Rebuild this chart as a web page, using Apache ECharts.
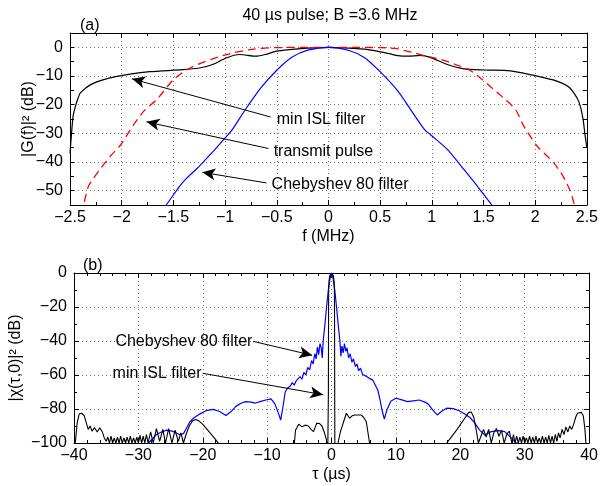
<!DOCTYPE html>
<html><head><meta charset="utf-8">
<script src="https://cdn.jsdelivr.net/npm/echarts@6/dist/echarts.min.js"></script>
<style>html,body{margin:0;padding:0;background:#fff}#c{width:601px;height:486px}</style>
</head><body><div id="c"></div>
<script>
// ---------- panel (a): spectra ----------
const fIsl = [-2.5,-2.485,-2.47,-2.447,-2.42,-2.40,-2.30,-2.14,-1.95,-1.73,-1.41,-1.25,-1.12,-0.99,-0.86,-0.70,-0.61,-0.51,-0.38,-0.2,0,0.2,0.35,0.48,0.6,0.67,0.77,0.89,0.99,1.15,1.31,1.50,1.76,1.95,2.21,2.33,2.41,2.44,2.465,2.48,2.5];
const gIsl = [-37,-30,-24,-20.5,-17.5,-15.9,-13,-10.9,-9.5,-8.5,-7.8,-7.2,-6,-3.7,-2.5,-3.1,-2.5,-1.4,-0.8,-0.3,0,-0.3,-0.6,-1.4,-2.3,-2.9,-3.1,-2.8,-3.6,-6,-7.5,-7.9,-8.2,-9.5,-11.8,-14,-18,-21,-25.5,-30,-35];
const fTx = [-2.41,-2.37,-2.32,-2.21,-2.11,-2.02,-1.88,-1.78,-1.66,-1.50,-1.34,-1.12,-0.93,-0.74,-0.5,0,0.5,0.65,0.80,0.93,1.09,1.23,1.36,1.49,1.58,1.71,1.81,1.89,2.02,2.18,2.27,2.34,2.38,2.41];
const gTx = [-58,-55,-48.4,-42.6,-38,-34.5,-26.8,-22,-18.2,-11.3,-7.2,-4,-2,-0.7,-0.1,0,-0.1,-0.4,-1.7,-2.9,-4.3,-6,-7.8,-11.3,-14.1,-18.2,-21.7,-27.5,-34.5,-40.3,-45,-50.2,-55,-58];
const fCheb = [-1.65,-1.57,-1.44,-1.38,-1.25,-1.12,-0.99,-0.93,-0.80,-0.65,-0.5,-0.35,-0.2,0,0.2,0.35,0.5,0.67,0.80,0.93,0.99,1.15,1.31,1.44,1.58,1.65];
const gCheb = [-58,-55,-48.5,-46,-41.5,-36.5,-31.2,-28.7,-21.5,-14,-8,-3.4,-1,0,-1.1,-3.6,-8.5,-15.2,-22,-28.7,-30.6,-35.6,-42.6,-48.4,-55,-58];
const gTicks = [-50,-40,-30,-20,-10,0];

// ---------- panel (b): ambiguity cuts ----------
const tauIsl = [
  -40,-39.8,-39.5,-39.2,-38.8,-38.4,-38.1,-37.8,-37.5,-37.2,-36.8,-36.4,-36.0,-35.6,-35.3,-35.0,
  -34.75,-34.5,-34.25,-34.0,-33.75,-33.5,-33.25,-33.0,-32.75,-32.5,-32.25,-32.0,-31.75,
  -31.5,-31.25,-31.0,-30.75,-30.5,-30.25,-30.0,-29.75,-29.5,-29.25,-29.0,-28.75,-28.5,
  -28.1,-27.7,-27.2,-26.7,-26.2,-25.8,-25.3,-24.8,-24.3,-23.8,-23.4,-23.0,-22.6,-22.1,-21.6,-21.1,-20.6,-20.0,-19.0,-18.0,-17.4,-17.0,
  -6.0,-5.6,-5.1,-4.6,-4.1,-3.6,-3.2,-2.8,-2.3,-1.9,-1.5,-1.1,-0.8,-0.6,
  -0.52,-0.49,-0.47,-0.45,-0.4,-0.28,0,0.28,0.4,0.45,0.47,0.49,0.52,
  0.7,1.0,1.4,1.8,2.3,2.8,3.2,3.6,4.1,4.6,5.0,5.4,5.7,5.9,6.1,
  17.5,17.9,18.5,19.5,20.5,21.3,21.7,22.1,22.5,22.8,23.2,23.6,24.0,24.4,24.8,25.2,25.6,26.0,26.4,26.8,27.2,27.6,28.0,
  28.25,28.5,28.75,29.0,29.25,29.5,29.75,30.0,30.25,30.5,30.75,31.0,31.25,31.5,31.75,
  32.0,32.25,32.5,32.75,33.0,33.25,33.5,33.75,34.0,34.25,34.5,34.75,35.0,35.25,35.5,
  35.8,36.1,36.4,36.7,37.0,37.3,37.6,37.9,38.2,38.5,38.8,39.1,39.35,39.5,39.7,40];
const islDb = [
  -110,-100,-88,-83,-82.5,-84,-88,-92,-90,-93,-91,-93.5,-91,-93.5,-97,-99,
  -96.5,-100,-96,-100,-97,-100,-96.5,-100,-96,-100,-97,-100,-96.5,
  -100,-96,-100,-97,-100,-96.5,-100,-95.5,-100,-96,-100,-95,-100,
  -93.5,-100,-91.5,-99,-92,-100,-91.5,-100,-92.5,-99,-94,-100,-95,-90,-87,-86.2,-87,-89,-93.5,-98,-101,-110,
  -110,-92.5,-89,-90.4,-89.5,-90,-92,-93.3,-88.4,-88.5,-90,-94,-98,-110,
  -110,-70,-30,-12,-5,-1.5,0,-1.5,-5,-12,-30,-70,-110,
  -110,-100,-93,-88.4,-82.5,-85.4,-84,-83.5,-83.5,-83.5,-85,-87.5,-95,-100,-110,
  -110,-100,-97,-92,-86.5,-82,-81.8,-85,-93,-100,-96,-92,-96.5,-92,-100,-94,-91.5,-96,-92.5,-100,-95,-93,-100,
  -95,-100,-96,-100,-96.5,-100,-96,-100,-97,-100,-96,-100,-96.5,-100,-96,
  -100,-97,-100,-96,-100,-96.5,-100,-95.5,-100,-96,-100,-95,-99,-94,-97,
  -92,-95,-90.5,-93.5,-90,-92,-89,-85,-82.5,-83.5,-82,-84,-92,-100,-110,-110];
const tauCheb = [
  -29,-28.4,-27.8,-27.2,-26.6,-25.6,-24.6,-23.6,-23.0,-22.5,
  -22.0,-21.3,-20.5,-19.5,-18.4,-17.4,-16.4,-15.6,-14.9,-14.0,
  -13.3,-12.5,-11.8,-11.0,-10.2,-9.4,-8.8,-8.3,-7.9,-7.6,
  -7.2,-6.8,-6.4,-6.1,-5.8,-5.5,-5.2,-4.9,-4.6,-4.3,
  -4.0,-3.7,-3.4,-3.1,-2.85,-2.6,-2.4,-2.2,-2.0,-1.8,
  -1.6,-1.45,-1.3,-1.05,-0.8,-0.5,-0.25,0,0.25,0.5,
  0.8,1.05,1.3,1.45,1.6,1.8,2.0,2.2,2.4,2.65,
  2.9,3.15,3.4,3.7,3.95,4.2,4.5,4.8,5.1,5.5,
  5.9,6.4,6.8,7.2,7.5,7.8,8.2,8.6,9.2,10.0,
  10.8,11.8,12.7,13.6,14.4,15.0,15.7,16.4,17.2,17.9,
  18.9,19.8,20.5,21.5,22.2,23.0,23.8,24.8,25.9,26.9,
  27.9,28.7,29.0];
const chebDb = [
  -103,-100,-97.5,-95,-93.8,-92.4,-93.2,-95,-94.5,-91,
  -87.5,-85,-83,-81,-80.2,-81.5,-83.8,-81.5,-78.6,-76.5,
  -75.7,-76,-76.5,-75.5,-74.7,-74,-77,-82,-86.5,-80,
  -70,-67.5,-66.5,-64.5,-66,-63.5,-64,-61,-62.5,-58.5,
  -60,-55.5,-57,-51.5,-53.5,-47.5,-50.5,-43.5,-48,-41.5,
  -44,-50,-40,-31,-21,-10,-3.5,0,-3.5,-10,
  -21,-31,-40,-49,-43,-47,-41.5,-46,-44,-50,
  -47.5,-52.5,-50.5,-55,-53.5,-57.5,-56,-59.5,-58.5,-61,
  -62,-63,-66,-69,-74,-80,-86,-80.5,-75.5,-73.7,
  -74.5,-75.7,-75.2,-74.7,-75.8,-77,-80.5,-83.5,-81,-79.5,
  -79.8,-81,-82.5,-85,-88,-92.4,-95.3,-93.3,-92.7,-93.3,
  -97,-100,-103];

// annotations (data coordinates)
const notesA = [
  {text:'min ISL filter',      at:[-0.50,-25.2], from:[-0.56,-24.3], to:[-1.90,-11.0]},
  {text:'transmit pulse',      at:[-0.53,-36.2], from:[-0.58,-35.3], to:[-1.76,-26.0]},
  {text:'Chebyshev 80 filter', at:[-0.55,-47.8], from:[-0.60,-47.3], to:[-1.22,-43.6]}
];
const notesB = [
  {text:'Chebyshev 80 filter', at:[-12.3,-40.4], from:[-12.2,-40.2], to:[-3.0,-48.4]},
  {text:'min ISL filter',      at:[-20.2,-59.4], from:[-20.0,-59.0], to:[-1.3,-71.6]}
];

const FONT = '"Liberation Sans", Arial, Helvetica, sans-serif';
const FS = 16;
const zip = (xs, ys) => xs.map((x, i) => [x, ys[i]]);
const fmt = v => (v < 0 ? '\u2212' : '') + Math.abs(v);
const GRID = {color:'#777', width:1, type:[1,3]};
const lab = {fontFamily:FONT, fontSize:FS, color:'#000'};

function xAx(grid, min, max, interval, minorSplit, top, name) {
  return {
    type:'value', gridIndex:grid, min, max, interval, position: top ? 'top' : 'bottom',
    axisLine:{show:true, onZero:false, lineStyle:{color:'#000', width:1}},
    axisTick:{show:true, inside:true, length:5, lineStyle:{color:'#000'}},
    minorTick:{show:true, splitNumber:minorSplit, length:3, lineStyle:{color:'#000'}},
    axisLabel: top ? {show:false} : Object.assign({margin:5, formatter:fmt}, lab),
    splitLine: top ? {show:false} : {show:true, lineStyle:GRID},
    minorSplitLine:{show:false},
    name: top ? '' : name, nameLocation:'middle', nameGap:24, nameMoveOverlap:false,
    nameTextStyle:{fontFamily:FONT, fontSize:FS, color:'#000'}
  };
}
function yAx(grid, min, max, interval, minorSplit, right, name, nameGap, labelFilter) {
  return {
    type:'value', gridIndex:grid, min, max, interval, position: right ? 'right' : 'left',
    axisLine:{show:true, onZero:false, lineStyle:{color:'#000', width:1}},
    axisTick:{show:true, inside:true, length: minorSplit ? 5 : 4, lineStyle:{color:'#000'}},
    minorTick:{show: !!minorSplit, splitNumber:minorSplit || 1, length:3, lineStyle:{color:'#000'}},
    axisLabel: right ? {show:false} : Object.assign({margin:7,
      formatter: v => labelFilter && !labelFilter.includes(v) ? '' : fmt(v)}, lab),
    splitLine: (right || labelFilter) ? {show:false} : {show:true, lineStyle:GRID},
    name: right ? '' : name, nameLocation:'middle', nameGap, nameRotate:90, nameMoveOverlap:false,
    nameTextStyle:{fontFamily:FONT, fontSize:FS, color:'#000'}
  };
}
function notes(list, pos) {
  return {
    markLine:{silent:true, symbol:['none','arrow'], symbolSize:[9,13], animation:false,
      lineStyle:{color:'#000', width:1, type:'solid'}, label:{show:false},
      data: list.map(n => [{coord:n.from}, {coord:n.to}])},
    markPoint:{silent:true, symbol:'circle', symbolSize:0, animation:false,
      label:{show:true, position:pos, distance:0, fontFamily:FONT, fontSize:FS, color:'#000', formatter:'{b}'},
      data: list.map(n => ({name:n.text, coord:n.at}))}
  };
}

const chart = echarts.init(document.getElementById('c'), null, {renderer:'canvas'});
const lineBase = {type:'line', showSymbol:false, symbol:'none', animation:false, clip:true, silent:true};

chart.setOption({
  backgroundColor:'#fff',
  animation:false,
  grid:[
    {left:70, top:33, width:521, height:172},
    {left:70, top:273, width:521, height:170}
  ],
  xAxis:[
    xAx(0, -2.5, 2.5, 0.5, 2, false, 'f (MHz)'),
    xAx(0, -2.5, 2.5, 0.5, 2, true),
    xAx(1, -40, 40, 10, 5, false, '\u03c4 (\u00b5s)'),
    xAx(1, -40, 40, 10, 5, true)
  ],
  yAxis:[
    yAx(0, -55, 5, 5, 0, false, '|G(f)|\u00b2 (dB)', 33, gTicks),
    yAx(0, -55, 5, 5, 0, true),
    {type:'value', gridIndex:0, min:-55, max:5, position:'left',
      axisLine:{show:false}, axisLabel:{show:false},
      axisTick:{show:false, customValues:gTicks},
      splitLine:{show:true, lineStyle:GRID}},
    yAx(1, -100, 0, 20, 2, false, '|\u03c7(\u03c4,0)|\u00b2 (dB)', 50),
    yAx(1, -100, 0, 20, 2, true)
  ],
  graphic:[
    {type:'text', x:330, y:16, style:{text:'40 \u00b5s pulse; B =3.6 MHz', font:FS + 'px ' + FONT, fill:'#000', align:'center', verticalAlign:'middle'}},
    {type:'text', x:80, y:26, style:{text:'(a)', font:FS + 'px ' + FONT, fill:'#000', align:'left', verticalAlign:'middle'}},
    {type:'text', x:83, y:266, style:{text:'(b)', font:FS + 'px ' + FONT, fill:'#000', align:'left', verticalAlign:'middle'}}
  ],
  series:[
    Object.assign({}, lineBase, {xAxisIndex:0, yAxisIndex:0, data:zip(fIsl, gIsl), smooth:0.25,
      lineStyle:{color:'#000', width:1.2}}, notes(notesA, 'right')),
    Object.assign({}, lineBase, {xAxisIndex:0, yAxisIndex:0, data:zip(fTx, gTx), smooth:0.25,
      lineStyle:{color:'#ff0000', width:1.3, type:[8,5]}}),
    Object.assign({}, lineBase, {xAxisIndex:0, yAxisIndex:0, data:zip(fCheb, gCheb), smooth:0.25,
      lineStyle:{color:'#0000ff', width:1.2}}),
    Object.assign({}, lineBase, {xAxisIndex:2, yAxisIndex:3, data:zip(tauCheb, chebDb),
      lineStyle:{color:'#0000ff', width:1.2}}),
    Object.assign({}, lineBase, {xAxisIndex:2, yAxisIndex:3, data:zip(tauIsl, islDb),
      lineStyle:{color:'#000', width:1.1}}, notes(notesB, 'left'))
  ]
});
</script></body></html>
